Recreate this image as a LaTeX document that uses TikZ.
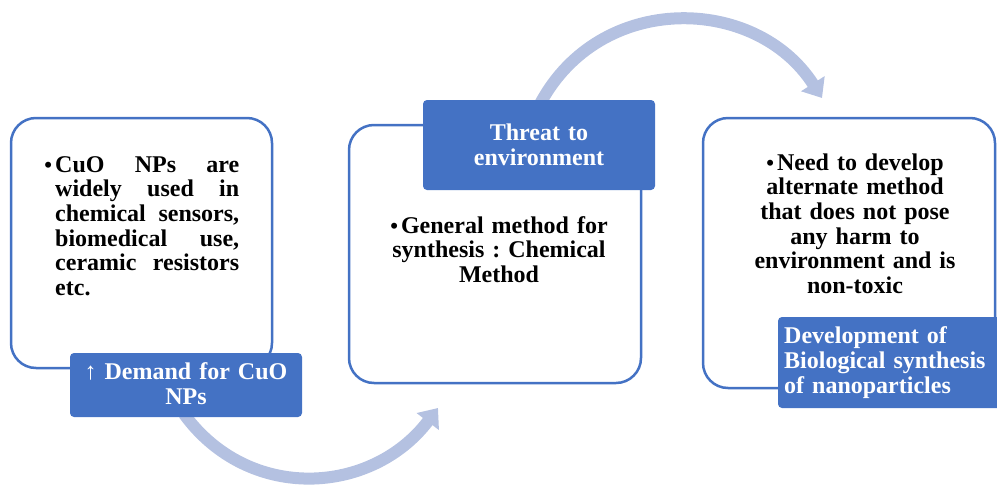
\documentclass[tikz,border=0pt]{standalone}
\usepackage{fontspec}
\setmainfont{Liberation Serif}
\usetikzlibrary{arrows.meta}
\definecolor{accent}{RGB}{68,114,196}
\definecolor{flowc}{RGB}{180,193,225}
\newcommand{\smbullet}{{\fontsize{22}{22}\selectfont\textbullet}}
\frenchspacing
\tikzset{
  bigbox/.style={draw=accent, line width=2.5pt, rounded corners=25pt, fill=white, inner sep=0pt},
  labelbox/.style={fill=accent, rounded corners=4pt, inner sep=0pt},
  flow/.style={draw=flowc, line width=12pt, -{Triangle[length=17pt,width=27pt]}},
  bodytext/.style={inner sep=0pt, font=\bfseries\fontsize{24}{24.7}\selectfont},
  labeltext/.style={inner sep=0pt, text=white, font=\bfseries\fontsize{24}{25}\selectfont},
}
\begin{document}
\begin{tikzpicture}[x=1pt,y=-1pt]
\useasboundingbox (0,0) rectangle (997,488);
% main boxes
\node[bigbox, minimum width=261pt, minimum height=250pt] (b1) at (141.5,243) {};
\node[bigbox, minimum width=292pt, minimum height=258pt] (b2) at (495,254) {};
\node[bigbox, minimum width=292pt, minimum height=270pt] (b3) at (849,253) {};
% connector end points
\coordinate (a1s) at (184,414);
\coordinate (a1e) at (438,408);
\coordinate (a2s) at (540,104);
\coordinate (a2e) at (822,98);
% curved arrows
\draw[flow] (a1s) .. controls (249,503) and (372,495) .. (a1e);
\draw[flow] (a2s) .. controls (600,-9) and (756,-5) .. (a2e);
% label boxes
\node[labelbox, minimum width=232pt, minimum height=64pt] (l1) at (186,385) {};
\node[labelbox, minimum width=232pt, minimum height=90pt] (l2) at (539,145) {};
\node[labelbox, minimum width=227pt, minimum height=91pt] (l3) at (891.5,362.5) {};
% body texts
\node[bodytext, anchor=base west, text width=184pt, align=left] (t1) at (55,172)
  {\makebox[184pt][s]{\llap{\smbullet\hspace{3pt}}CuO\hfill NPs\hfill are}\\
   \makebox[184pt][s]{widely\hfill used\hfill in}\\
   \makebox[184pt][s]{chemical\hfill sensors,}\\
   \makebox[184pt][s]{biomedical\hfill use,}\\
   \makebox[184pt][s]{ceramic\hfill resistors}\\
   etc.};
\node[bodytext, anchor=base, text width=250pt, align=center] (t2) at (499,233)
  {\smbullet\hspace{3pt}General method for\\synthesis : Chemical\\Method};
\node[bodytext, anchor=base, text width=250pt, align=center] (t3) at (855,170)
  {\smbullet\hspace{3pt}Need to develop\\alternate method\\that does not pose\\any harm to\\environment and is\\non-toxic};
% label texts
\node[labeltext, anchor=base, text width=230pt, align=center] (lt1) at (186,379)
  {↑ Demand for CuO\\NPs};
\node[labeltext, anchor=base, text width=230pt, align=center] (lt2) at (539,140)
  {Threat to\\environment};
\node[labeltext, anchor=base west, text width=215pt, align=left] (lt3) at (784,343)
  {Development of\\Biological synthesis\\of nanoparticles};
\end{tikzpicture}
\end{document}
